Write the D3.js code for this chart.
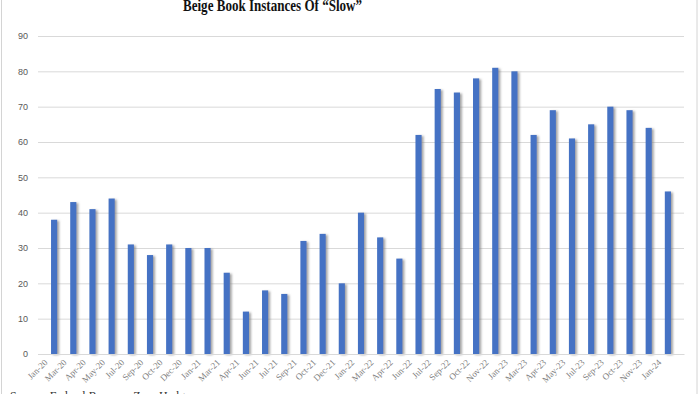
<!DOCTYPE html>
<html>
<head>
<meta charset="utf-8">
<script src="https://cdn.jsdelivr.net/npm/d3@7"></script>
<style>
  html, body { margin: 0; padding: 0; background: #fff; }
  svg { display: block; }
</style>
</head>
<body>
<svg id="svg" width="700" height="394"></svg>
<script>
// Beige Book "slow" mentions, per release
const LABELS = [
  "Jan-20", "Mar-20", "Apr-20", "May-20", "Jul-20", "Sep-20", "Oct-20", "Dec-20",
  "Jan-21", "Mar-21", "Apr-21", "Jun-21", "Jul-21", "Sep-21", "Oct-21", "Dec-21",
  "Jan-22", "Mar-22", "Apr-22", "Jun-22", "Jul-22", "Sep-22", "Oct-22", "Nov-22",
  "Jan-23", "Mar-23", "Apr-23", "May-23", "Jul-23", "Sep-23", "Oct-23", "Nov-23",
  "Jan-24",
];
const VALUES = [
  38, 43, 41, 44, 31, 28, 31, 30,
  30, 23, 12, 18, 17, 32, 34, 20,
  40, 33, 27, 62, 75, 74, 78, 81,
  80, 62, 69, 61, 65, 70, 69, 64,
  46,
];
const Y_TICKS = [0, 10, 20, 30, 40, 50, 60, 70, 80, 90];
const TITLE = "Beige Book Instances Of \u201cSlow\u201d";
const SOURCE = "Source: Federal Reserve, Zero Hedge";

const BAR = "#4472c4";
const GRID = "#d9d9d9";

const svg = d3.select("#svg");
const plot = { left: 38, right: 684, top: 36, bottom: 354 };

// drop shadow like the spreadsheet bars
const defs = svg.append("defs");
defs.append("filter").attr("id", "shadow")
  .attr("x", "-50%").attr("y", "-10%").attr("width", "250%").attr("height", "130%")
  .append("feDropShadow")
  .attr("dx", 2).attr("dy", 1).attr("stdDeviation", 0.9)
  .attr("flood-color", "#7f7f7f").attr("flood-opacity", 0.7);

// frame
svg.append("rect")
  .attr("x", 1.5).attr("y", -5).attr("width", 695.5).attr("height", 410)
  .attr("fill", "none").attr("stroke", "#d4d4d4");

const x = d3.scaleBand().domain(LABELS).range([plot.left, plot.right]).padding(0.68);
const y = d3.scaleLinear().domain([0, 90]).range([plot.bottom, plot.top]);

// gridlines + y labels
const yAxis = svg.append("g")
  .attr("transform", `translate(${plot.left},0)`)
  .call(d3.axisLeft(y).tickValues(Y_TICKS).tickSize(-(plot.right - plot.left)).tickPadding(10));
yAxis.select(".domain").remove();
yAxis.selectAll(".tick line").attr("stroke", GRID).attr("stroke-width", 1);
yAxis.selectAll(".tick text")
  .attr("fill", "#595959")
  .style("font", "9px 'Liberation Sans', Arial, sans-serif");

// bars
svg.append("g").selectAll("rect")
  .data(VALUES).enter().append("rect")
  .attr("x", (d, i) => x(LABELS[i]))
  .attr("y", d => y(d))
  .attr("width", x.bandwidth())
  .attr("height", d => y(0) - y(d))
  .attr("fill", BAR)
  .attr("filter", "url(#shadow)");

// x labels
const xAxis = svg.append("g")
  .attr("transform", `translate(0,${plot.bottom})`)
  .call(d3.axisBottom(x).tickSize(0).tickPadding(0));
xAxis.select(".domain").attr("stroke", GRID);
xAxis.selectAll(".tick text")
  .attr("fill", "#808080")
  .style("font", "9px 'Liberation Serif', 'Times New Roman', serif")
  .attr("text-anchor", "end")
  .attr("dy", 0)
  .attr("transform", "translate(-6,9) rotate(-45)");

// title, cropped at the top like the source image
svg.append("text")
  .attr("x", 183).attr("y", 11)
  .attr("textLength", 179).attr("lengthAdjust", "spacingAndGlyphs")
  .attr("fill", "#111")
  .style("font", "bold 17px 'Liberation Serif', 'Times New Roman', serif")
  .text(TITLE);

// source line, also cropped at the bottom
svg.append("text")
  .attr("x", 10).attr("y", 400)
  .attr("fill", "#333")
  .style("font", "12px 'Liberation Serif', 'Times New Roman', serif")
  .text(SOURCE);
</script>
</body>
</html>
